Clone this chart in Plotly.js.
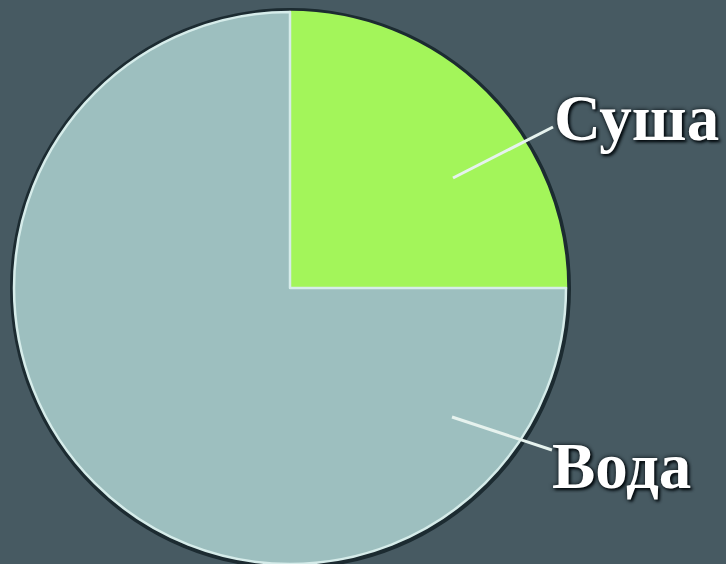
<!DOCTYPE html>
<html>
<head>
<meta charset="utf-8">
<script src="https://cdn.plot.ly/plotly-3.0.1.min.js"></script>
<style>html,body{margin:0;padding:0;background:#475a62;}#chart{width:726px;height:564px;}</style>
</head>
<body>
<div id="chart"></div>
<script>
const categories = ['Суша', 'Вода'];
const shares = [25, 75];
const sliceColors = ['#a3f55a', '#9dbfbf'];
const edgeColors = ['#a3f55a', '#d6ecea'];

const W = 726, H = 564;
const px = x => x / W;
const py = y => 1 - y / H;

const data = [{
  type: 'pie',
  labels: categories,
  values: shares,
  sort: false,
  direction: 'clockwise',
  rotation: 0,
  textinfo: 'none',
  hoverinfo: 'label+percent',
  marker: { colors: sliceColors, line: { color: edgeColors, width: 2.5 } },
  domain: { x: [px(14), px(566)], y: [py(564), py(12)] },
  showlegend: false
}];

const labelFont = { family: 'Liberation Serif, DejaVu Serif, serif', size: 65, color: '#ffffff', weight: 'bold',
  shadow: '0px 0px 4px #050c10, 2px 2px 3px #050c10' };

const layout = {
  width: W, height: H,
  margin: { l: 0, r: 0, t: 0, b: 0 },
  paper_bgcolor: '#475a62',
  plot_bgcolor: '#475a62',
  shapes: [
    { type: 'circle', xref: 'paper', yref: 'paper', layer: 'below',
      x0: px(10), x1: px(571), y0: py(569), y1: py(8),
      fillcolor: '#1c2b31', line: { width: 0 } },
    { type: 'line', xref: 'paper', yref: 'paper', x0: px(453), y0: py(178), x1: px(553), y1: py(127),
      line: { color: '#e6f2ee', width: 3 } },
    { type: 'line', xref: 'paper', yref: 'paper', x0: px(452), y0: py(417), x1: px(552), y1: py(450),
      line: { color: '#e6f2ee', width: 3 } }
  ],
  annotations: [
    { xref: 'paper', yref: 'paper', x: px(552), y: py(118), xanchor: 'left', yanchor: 'middle',
      text: categories[0], showarrow: false, font: labelFont },
    { xref: 'paper', yref: 'paper', x: px(550), y: py(466), xanchor: 'left', yanchor: 'middle',
      text: categories[1], showarrow: false, font: labelFont }
  ]
};

Plotly.newPlot('chart', data, layout, { displayModeBar: false, staticPlot: true });
</script>
</body>
</html>
